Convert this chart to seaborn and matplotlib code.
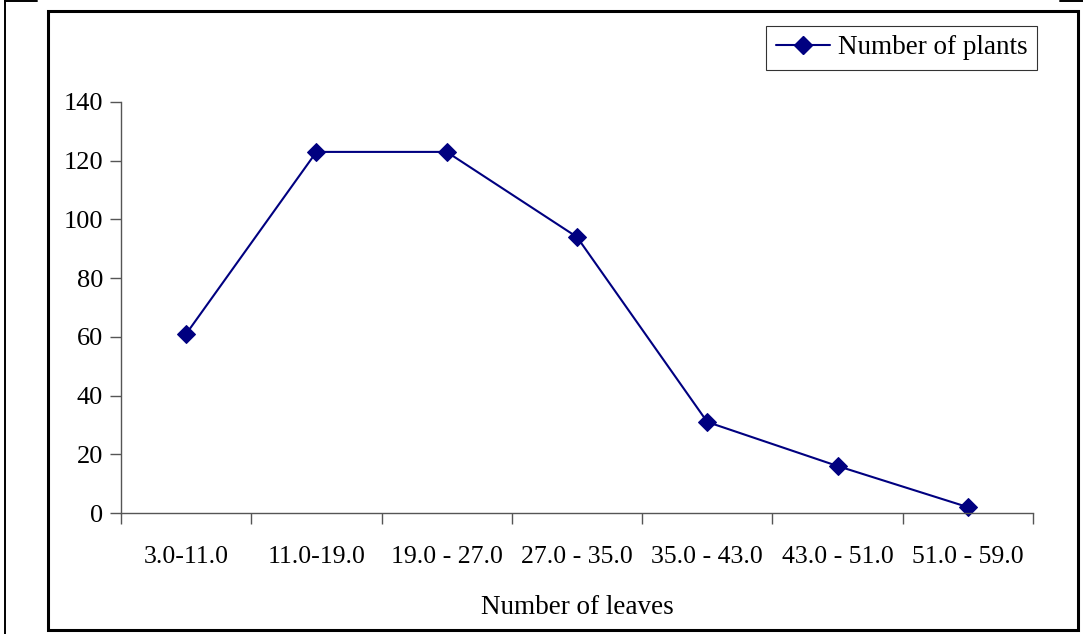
import numpy as np
import pandas as pd
import matplotlib
matplotlib.use("Agg")
import matplotlib.pyplot as plt
from matplotlib.lines import Line2D
from matplotlib.patches import Rectangle
import seaborn as sns

categories = ["3.0-11.0", "11.0-19.0", "19.0 - 27.0", "27.0 - 35.0",
              "35.0 - 43.0", "43.0 - 51.0", "51.0 - 59.0"]
plants = [61, 123, 123, 94, 31, 16, 2]
y_ticks = [0, 20, 40, 60, 80, 100, 120, 140]

sns.set_style("white")
plt.rcParams["font.family"] = ["Liberation Serif", "DejaVu Serif"]
plt.rcParams["font.size"] = 19
plt.rcParams["text.color"] = "black"
plt.rcParams["axes.labelcolor"] = "black"
plt.rcParams["xtick.labelcolor"] = "black"
plt.rcParams["ytick.labelcolor"] = "black"

df = pd.DataFrame({"pos": np.arange(len(categories)), "plants": plants})

fig = plt.figure(figsize=(10.83, 6.34), dpi=100)
ax = fig.add_axes([121 / 1083, 1 - 513 / 634, (1033 - 121) / 1083, (513 - 102) / 634])

navy = "#000080"
sns.lineplot(data=df, x="pos", y="plants", ax=ax, color=navy, linewidth=1.5,
             marker="D", markersize=9, markeredgecolor=navy, markerfacecolor=navy,
             label="Number of plants", clip_on=False)

ax.set_xlim(-0.5, len(categories) - 0.5)
ax.set_ylim(0, 140)
ax.set_yticks(y_ticks)
ax.set_yticklabels([str(v) for v in y_ticks], fontsize=19)

# category labels centred, ticks at the category boundaries
ax.set_xticks(np.arange(len(categories)))
ax.set_xticklabels(categories, fontsize=18.5)
ax.set_xticks(np.arange(len(categories) + 1) - 0.5, minor=True)
ax.tick_params(axis="x", which="major", bottom=True, length=0, pad=24, labelcolor="black")
ax.tick_params(axis="x", which="minor", bottom=True, length=8, width=1,
               color="#555555", direction="out")
ax.tick_params(axis="y", which="major", left=True, length=8, width=1,
               color="#555555", direction="out", pad=5, labelcolor="black")

for side in ("top", "right"):
    ax.spines[side].set_visible(False)
for side in ("left", "bottom"):
    ax.spines[side].set_color("#555555")
    ax.spines[side].set_linewidth(1)

ax.set_xlabel("Number of leaves", fontsize=19.5, labelpad=19, color="black")
ax.set_ylabel("")

handle = Line2D([], [], color=navy, linewidth=1.5, marker="D", markersize=9)
leg = ax.legend([handle], ["Number of plants"], loc="upper right",
                bbox_to_anchor=(1037 / 1083, 1 - 26 / 634), bbox_transform=fig.transFigure,
                frameon=True, fancybox=False, fontsize=19.5, handlelength=2.0,
                borderpad=0.35, handletextpad=0.3, borderaxespad=0)
leg.get_frame().set_edgecolor("black")
leg.get_frame().set_linewidth(0.8)
for t in leg.get_texts():
    t.set_color("black")

W, H = 1083, 634
# chart frame
fig.add_artist(Rectangle((48 / W, 1 - 630 / H), (1078 - 48) / W, (630 - 11) / H,
                         transform=fig.transFigure, fill=False, edgecolor="black", linewidth=2.2))
# page border pieces
fig.add_artist(Line2D([5 / W, 5 / W], [0, 1], transform=fig.transFigure, color="black", linewidth=1.4))
fig.add_artist(Line2D([5 / W, 37 / W], [1 - 1 / H, 1 - 1 / H], transform=fig.transFigure,
                      color="black", linewidth=1.4))
fig.add_artist(Line2D([1060 / W, 1], [1 - 1 / H, 1 - 1 / H], transform=fig.transFigure,
                      color="black", linewidth=1.4))

fig.savefig("out.png", dpi=100)
